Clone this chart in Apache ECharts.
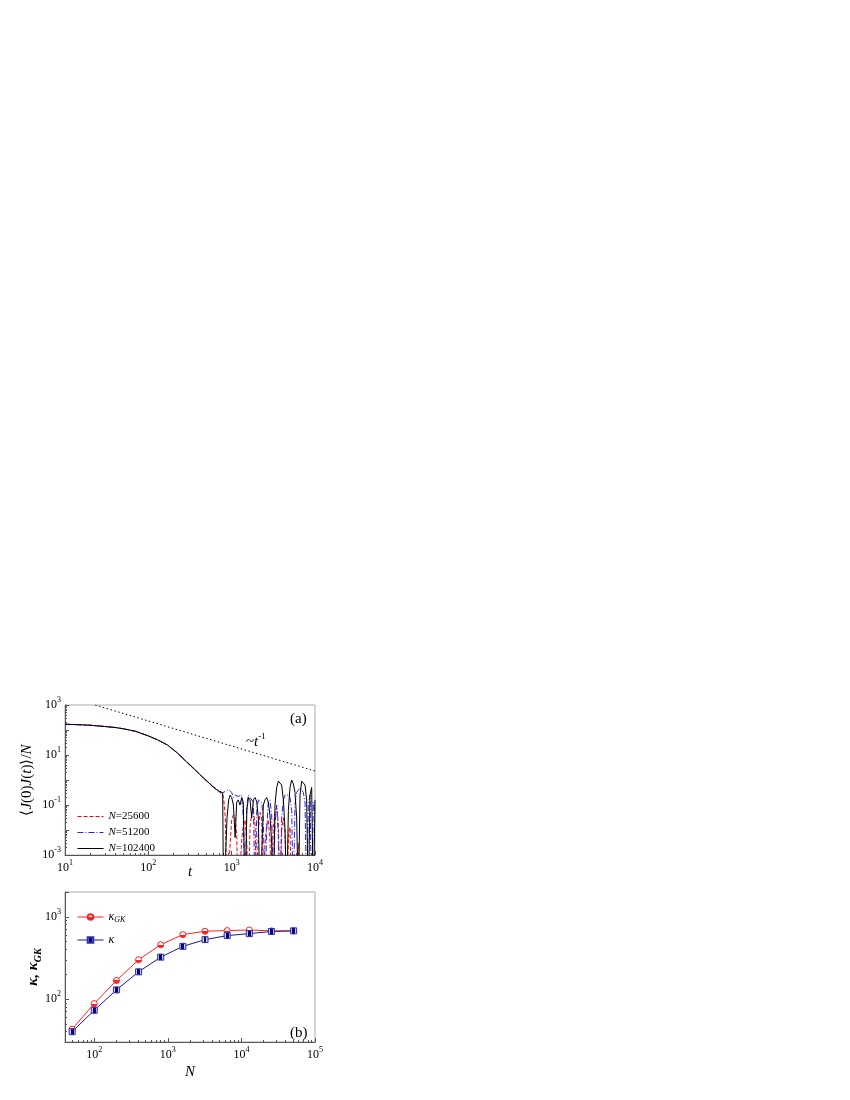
<!DOCTYPE html>
<html>
<head>
<meta charset="utf-8">
<script src="https://cdn.jsdelivr.net/npm/echarts@6/dist/echarts.min.js"></script>
<style>
html, body { margin: 0; padding: 0; background: #fff; }
#main { width: 850px; height: 1100px; }
</style>
</head>
<body>
<div id="main"></div>
<script>
// ---- panel (a): current autocorrelation vs t ----
var tVals = [10, 15, 20, 30, 40, 50, 70, 100, 130, 170, 220, 280, 350, 420, 500, 580, 650, 720, 780,
	800, 840, 880, 920, 960, 1000, 1050, 1100, 1150, 1200, 1260, 1320, 1380, 1450, 1520,
	1590, 1660, 1740, 1820, 1910, 2000, 2090, 2190, 2290, 2400, 2510, 2630, 2750, 2880, 3020,
	3160, 3310, 3470, 3630, 3800, 3980, 4170, 4370, 4570, 4790, 5010, 5250, 5500, 5750, 6030,
	6310, 6610, 6920, 7240, 7590, 7940, 8320, 8710, 9120, 9550, 10000];
var corr25600 = [170, 162, 155, 138, 126, 112, 89, 58, 40, 25, 12.5, 5.7, 2.8, 1.6, 0.9, 0.6, 0.42, 0.32, 0.26,
	0.2, 0.03, 0.00001, 0.00001, 0.003,
	0.025, 0.04, 0.03, 0.006, 0.00001,
	0.00001, 0.004, 0.016, 0.025, 0.003,
	0.00001, 0.013, 0.05, 0.063, 0.016,
	0.00001, 0.01, 0.05, 0.03, 0.00001,
	0.0025, 0.016, 0.025, 0.004, 0.00001,
	0.013, 0.05, 0.08, 0.02, 0.00001,
	0.01, 0.03, 0.008, 0.00001, 0.005,
	0.013, 0.00001, 0.00001, 0.00001, 0.00001,
	0.003, 0.00001, 0.00001, 0.00001, 0.00001,
	0.00001, 0.00001, 0.00001, 0.00001, 0.00001,
	0.00001];
var corr51200 = [170, 162, 155, 138, 126, 112, 89, 58, 40, 25, 12.6, 5.9, 3.0, 1.55, 0.95, 0.57, 0.45, 0.36, 0.31,
	0.32, 0.35, 0.4, 0.42, 0.4,
	0.32, 0.2, 0.25, 0.28, 0.22,
	0.2, 0.25, 0.03, 0.00001, 0.1,
	0.25, 0.2, 0.22, 0.13, 0.00001,
	0.06, 0.16, 0.18, 0.13, 0.025,
	0.00001, 0.01, 0.13, 0.16, 0.04,
	0.00001, 0.016, 0.1, 0.006, 0.00001,
	0.03, 0.16, 0.25, 0.28, 0.25,
	0.2, 0.06, 0.00001, 0.1, 0.32,
	0.4, 0.5, 0.45, 0.32, 0.13,
	0.00001, 0.1, 0.25, 0.00001, 0.13,
	0.05];
var corr102400 = [170, 162, 155, 138, 126, 112, 89, 58, 40, 25, 12.6, 5.8, 2.9, 1.6, 0.93, 0.59, 0.43, 0.34, 0.30,
	0.00001, 0.00001, 0.03, 0.16, 0.25,
	0.2, 0.1, 0.005, 0.13, 0.16,
	0.1, 0.2, 0.13, 0.00001, 0.06,
	0.2, 0.16, 0.03, 0.16, 0.2,
	0.13, 0.03, 0.00001, 0.00001, 0.1,
	0.16, 0.2, 0.13, 0.04, 0.003,
	0.00001, 0.1, 0.5, 0.9, 1.0,
	0.63, 0.16, 0.01, 0.00001, 0.06,
	0.5, 1.0, 0.7, 0.32, 0.03,
	0.00001, 0.25, 0.9, 0.8, 0.63,
	0.16, 0.00001, 0.25, 0.5, 0.00001,
	0.16];
// guide line ~ t^-1
var powerT = [23, 10000];
var powerC = [1000, 2.3];

// ---- panel (b): conductivity vs N ----
var sizeN = [50, 100, 200, 400, 800, 1600, 3200, 6400, 12800, 25600, 51200];
var kappaGK = [43, 88, 168, 300, 458, 607, 667, 679, 690, 674, 674];
var kappa = [40, 73, 129, 214, 323, 437, 527, 590, 624, 662, 674];

function pairs(xs, ys) {
	var out = [];
	for (var i = 0; i < xs.length; i++) {
		out.push([xs[i], ys[i]]);
	}
	return out;
}

var serif = 'Liberation Serif';
var supRich = {
	sup: { fontSize: 8, verticalAlign: 'top', fontFamily: serif, color: '#000' }
};

function expLabel(skipEven) {
	return function(v) {
		var e = Math.log10(v);
		var r = Math.round(e);
		if (Math.abs(e - r) > 1e-6) return '';
		if (skipEven && r % 2 === 0) return '';
		return '10{sup|' + r + '}';
	};
}

function logAxis(extra) {
	var ax = {
		type: 'log',
		logBase: 10,
		nameMoveOverlap: false,
		axisLine: { show: true, lineStyle: { color: '#555', width: 1 } },
		axisTick: { show: true, inside: true, length: 4, lineStyle: { color: '#555' } },
		minorTick: { show: true, splitNumber: 9, length: 2, lineStyle: { color: '#555' } },
		splitLine: { show: false },
		nameTextStyle: { fontFamily: serif, fontSize: 14, color: '#000' }
	};
	for (var k in extra) ax[k] = extra[k];
	return ax;
}

var chart = echarts.init(document.getElementById('main'));
var option = {
	animation: false,
	backgroundColor: '#fff',
	grid: [
		{ left: 65, top: 705, width: 250, height: 150, show: true, borderColor: '#aaa', borderWidth: 1 },
		{ left: 65, top: 892, width: 250, height: 150, show: true, borderColor: '#aaa', borderWidth: 1 }
	],
	xAxis: [
		logAxis({
			gridIndex: 0, min: 10, max: 10000, interval: 1,
			name: 't', nameLocation: 'middle', nameGap: 10,
			nameTextStyle: { fontFamily: serif, fontSize: 15, fontStyle: 'italic', color: '#000' },
			axisLabel: { formatter: expLabel(false), margin: 4, fontFamily: serif, fontSize: 12, color: '#000', lineHeight: 18, rich: supRich }
		}),
		logAxis({
			gridIndex: 1, min: 40, max: 100000,
			name: 'N', nameLocation: 'middle', nameGap: 23,
			nameTextStyle: { fontFamily: serif, fontSize: 15, fontStyle: 'italic', color: '#000' },
			axisLabel: { formatter: expLabel(false), margin: 4, fontFamily: serif, fontSize: 12, color: '#000', lineHeight: 18, rich: supRich }
		})
	],
	yAxis: [
		logAxis({
			gridIndex: 0, min: 0.001, max: 1000, interval: 1,
			name: '⟨{i|J}(0){i|J}({i|t})⟩/{i|N}', nameLocation: 'middle', nameGap: 30,
			nameTextStyle: { fontFamily: serif, fontSize: 15, color: '#000',
				rich: { i: { fontFamily: serif, fontSize: 15, fontStyle: 'italic', color: '#000' } } },
			axisLabel: { formatter: expLabel(true), margin: 4, fontFamily: serif, fontSize: 12, color: '#000', lineHeight: 18, rich: supRich }
		}),
		logAxis({
			gridIndex: 1, min: 30, max: 2000,
			name: '{b|κ, κ}{s|GK}', nameLocation: 'middle', nameGap: 22,
			nameTextStyle: { fontFamily: serif, fontSize: 15, color: '#000', lineHeight: 20,
				rich: {
					b: { fontFamily: serif, fontSize: 15, fontWeight: 'bold', fontStyle: 'italic', color: '#000' },
					s: { fontFamily: serif, fontSize: 10, fontWeight: 'bold', fontStyle: 'italic', color: '#000', verticalAlign: 'bottom' }
				} },
			axisLabel: { formatter: expLabel(false), margin: 4, fontFamily: serif, fontSize: 12, color: '#000', lineHeight: 18, rich: supRich }
		})
	],
	legend: [
		{
			data: ['N=25600', 'N=51200', 'N=102400'],
			left: 72, top: 806, orient: 'vertical',
			itemWidth: 26, itemHeight: 12, itemGap: 5,
			itemStyle: { opacity: 0 },
			lineStyle: { width: 1 },
			formatter: function(name) { return '{i|N}' + name.substring(1); },
			textStyle: { fontFamily: serif, fontSize: 11, color: '#000',
				rich: { i: { fontFamily: serif, fontSize: 11, fontStyle: 'italic', color: '#000' } } }
		},
		{
			data: ['κGK', 'κ'],
			left: 72, top: 905, orient: 'vertical',
			itemWidth: 26, itemHeight: 7, itemGap: 9,
			lineStyle: { width: 1 },
			formatter: function(name) { return name === 'κGK' ? '{k|κ}{s|GK}' : '{k|κ}'; },
			textStyle: { fontFamily: serif, fontSize: 12, color: '#000', lineHeight: 14,
				rich: {
					k: { fontFamily: serif, fontSize: 12, fontStyle: 'italic', color: '#000' },
					s: { fontFamily: serif, fontSize: 8, fontStyle: 'italic', color: '#000', verticalAlign: 'bottom' }
				} }
		}
	],
	series: [
		{
			name: 'power', type: 'line', xAxisIndex: 0, yAxisIndex: 0,
			data: pairs(powerT, powerC), symbol: 'none',
			lineStyle: { color: '#000', width: 1, type: [1.5, 2.5] }
		},
		{
			name: 'N=25600', type: 'line', xAxisIndex: 0, yAxisIndex: 0,
			data: pairs(tVals, corr25600), symbol: 'none', clip: true,
			itemStyle: { color: '#ff0000' },
			lineStyle: { color: '#ff0000', width: 1, type: [4, 2] }
		},
		{
			name: 'N=51200', type: 'line', xAxisIndex: 0, yAxisIndex: 0,
			data: pairs(tVals, corr51200), symbol: 'none', clip: true,
			itemStyle: { color: '#2222ff' },
			lineStyle: { color: '#2222ff', width: 1, type: [6, 2, 1, 2] }
		},
		{
			name: 'N=102400', type: 'line', xAxisIndex: 0, yAxisIndex: 0,
			data: pairs(tVals, corr102400), symbol: 'none', clip: true,
			itemStyle: { color: '#000' },
			lineStyle: { color: '#000', width: 1 }
		},
		{
			name: 'κGK', type: 'line', xAxisIndex: 1, yAxisIndex: 1,
			data: pairs(sizeN, kappaGK), symbol: 'circle', symbolSize: 6,
			itemStyle: {
				color: new echarts.graphic.LinearGradient(0, 0, 0, 1, [
					{ offset: 0, color: '#fff' }, { offset: 0.5, color: '#fff' },
					{ offset: 0.5, color: '#ff2020' }, { offset: 1, color: '#ff2020' }]),
				borderColor: '#ff2020', borderWidth: 1
			},
			lineStyle: { color: '#ff2020', width: 1 }
		},
		{
			name: 'κ', type: 'line', xAxisIndex: 1, yAxisIndex: 1,
			data: pairs(sizeN, kappa), symbol: 'rect', symbolSize: 6,
			itemStyle: {
				color: new echarts.graphic.LinearGradient(0, 0, 1, 0, [
					{ offset: 0, color: '#c8c8f0' }, { offset: 0.3, color: '#c8c8f0' },
					{ offset: 0.3, color: '#000080' }, { offset: 0.7, color: '#000080' },
					{ offset: 0.7, color: '#c8c8f0' }, { offset: 1, color: '#c8c8f0' }]),
				borderColor: '#3030a0', borderWidth: 1
			},
			lineStyle: { color: '#1a1a90', width: 1 }
		}
	],
	graphic: [
		{ type: 'text', left: 290, top: 712, style: { text: '(a)', font: '15px "Liberation Serif"', fill: '#000' } },
		{ type: 'text', left: 290, top: 1026, style: { text: '(b)', font: '15px "Liberation Serif"', fill: '#000' } },
		{ type: 'text', left: 246, top: 732, style: {
			text: '~{i|t}{sup|-1}', font: '15px "Liberation Serif"', fill: '#000', lineHeight: 20,
			rich: {
				i: { fontFamily: serif, fontSize: 15, fontStyle: 'italic', fill: '#000' },
				sup: { fontFamily: serif, fontSize: 9, verticalAlign: 'top', fill: '#000' }
			} } }
	]
};
chart.setOption(option);
</script>
</body>
</html>
